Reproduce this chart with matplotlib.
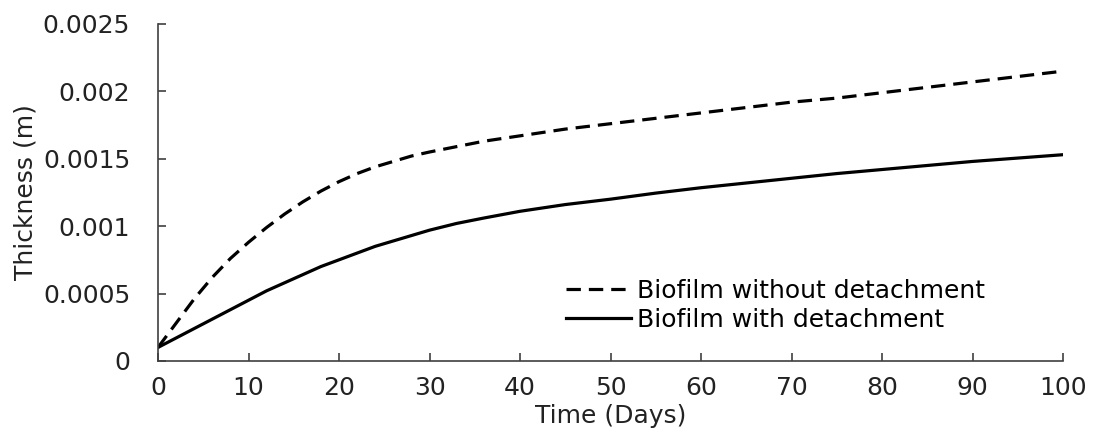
import numpy as np
import matplotlib
matplotlib.use('Agg')
import matplotlib.pyplot as plt

plt.rcParams['font.family'] = 'DejaVu Sans'
plt.rcParams['font.size'] = 18

# Values (time in days, thickness in m)
days = [0, 1, 2, 3, 4, 5, 6, 7, 8, 9, 10, 12, 14, 16, 18, 20, 22, 24, 26,
        28, 30, 33, 36, 40, 45, 50, 55, 60, 65, 70, 75, 80, 85, 90, 95, 100]
no_detach = [0.0001, 0.00019, 0.00028, 0.00037, 0.00046, 0.00054, 0.00062,
             0.00069, 0.00076, 0.00082, 0.00088, 0.00099, 0.00109, 0.00118,
             0.00126, 0.00133, 0.00139, 0.00144, 0.00148, 0.00152, 0.00155,
             0.00159, 0.00163, 0.00167, 0.00172, 0.00176, 0.0018, 0.00184,
             0.00188, 0.00192, 0.00195, 0.00199, 0.00203, 0.00207, 0.00211,
             0.00215]
with_detach = [0.0001, 0.000135, 0.00017, 0.000205, 0.00024, 0.000275,
               0.00031, 0.000345, 0.00038, 0.000415, 0.00045, 0.00052,
               0.00058, 0.00064, 0.0007, 0.00075, 0.0008, 0.00085, 0.00089,
               0.00093, 0.00097, 0.00102, 0.00106, 0.00111, 0.00116, 0.0012,
               0.001245, 0.001285, 0.00132, 0.001355, 0.00139, 0.00142,
               0.00145, 0.00148, 0.001505, 0.00153]

xticks = list(range(0, 101, 10))
yticks = [0, 0.0005, 0.001, 0.0015, 0.002, 0.0025]
ytick_labels = ['0', '0.0005', '0.001', '0.0015', '0.002', '0.0025']

fig = plt.figure(figsize=(10.95, 4.4), dpi=100)
ax = fig.add_axes([0.1443, 0.1798, 0.8265, 0.7657])

ax.plot(days, no_detach, color='black', lw=2.3, linestyle=(0, (4.5, 2.5)),
        label='Biofilm without detachment')
ax.plot(days, with_detach, color='black', lw=2.3,
        label='Biofilm with detachment')

ax.set_xlim(0, 100)
ax.set_ylim(0, 0.0025)
ax.set_xticks(xticks)
ax.set_yticks(yticks)
ax.set_yticklabels(ytick_labels)

for s in ['top', 'right']:
    ax.spines[s].set_visible(False)
for s in ['left', 'bottom']:
    ax.spines[s].set_color('#404040')
    ax.spines[s].set_linewidth(1.2)

ax.tick_params(axis='both', direction='in', length=6, width=1.2,
               color='#404040', labelcolor='#222222')
ax.tick_params(axis='x', pad=11)
ax.tick_params(axis='y', pad=20)

ax.set_xlabel('Time (Days)', color='#222222', labelpad=3)
ax.set_ylabel('Thickness (m)', color='#222222')
ax.yaxis.set_label_coords(-0.133, 0.5)

ax.legend(loc='center left', bbox_to_anchor=(0.437, 0.165), frameon=False,
          handlelength=2.6, handletextpad=0.25, labelspacing=0.2,
          borderpad=0, fontsize=18)

fig.savefig('out.png', dpi=100)
